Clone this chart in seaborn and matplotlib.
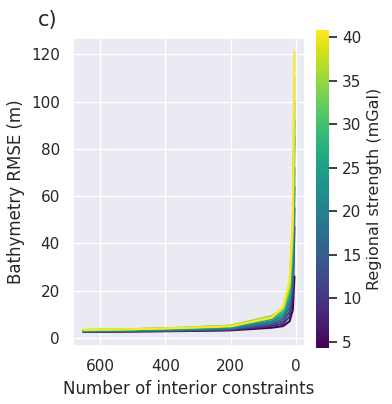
import pandas as pd
import numpy as np
import seaborn as sns
import matplotlib.pyplot as plt
import matplotlib as mpl

# number of interior constraints (x) shared by all runs
constraints = [650, 500, 350, 200, 75, 40, 20, 10, 5]

strengths = [4.3, 8.4, 12.4, 16.5, 20.5, 24.6, 28.6, 32.7, 36.7, 40.8]

rmse = [
    [2.5, 2.7, 2.9, 3.2, 4.3, 5.0, 7.0, 12, 26],
    [2.6, 2.8, 3.0, 3.4, 5.0, 6.0, 9.0, 18, 47],
    [2.7, 2.9, 3.2, 3.6, 5.6, 7.0, 11, 22, 55],
    [2.8, 3.0, 3.3, 3.9, 6.3, 8.0, 13, 26, 64],
    [2.9, 3.2, 3.5, 4.1, 7.0, 9.0, 15, 30, 72],
    [3.0, 3.3, 3.8, 4.5, 7.9, 10, 17, 35, 85],
    [3.2, 3.6, 4.1, 5.0, 8.8, 11, 19, 40, 92],
    [3.3, 3.7, 4.3, 5.2, 9.2, 12, 21, 44, 100],
    [3.4, 3.7, 4.3, 5.1, 9.0, 12.5, 22, 48, 110],
    [3.5, 3.7, 4.2, 4.9, 8.5, 13, 24, 52, 121],
]

rows = []
for s, vals in zip(strengths, rmse):
    for c, v in zip(constraints, vals):
        rows.append({'constraints': c, 'rmse': v, 'strength': s})
df = pd.DataFrame(rows)

sns.set_theme(style='darkgrid')
fig = plt.figure(figsize=(3.92, 4.04), dpi=100)
ax = fig.add_axes([73/392, 1-346/404, 232/392, 308/404])
cax = fig.add_axes([316/392, 1-348/404, 13/392, 318/404])

norm = mpl.colors.Normalize(vmin=4.3, vmax=40.8)
sns.lineplot(data=df, x='constraints', y='rmse', hue='strength', palette='viridis',
             hue_norm=norm, legend=False, ax=ax, linewidth=1.5)
ax.invert_xaxis()
ax.set_xlabel('Number of interior constraints')
ax.set_ylabel('Bathymetry RMSE (m)')
ax.set_yticks([0, 20, 40, 60, 80, 100, 120])
ax.set_xticks([600, 400, 200, 0])
ax.text(-0.15, 1.025, 'c)', transform=ax.transAxes, fontsize=15, ha='left', va='bottom')

sm = mpl.cm.ScalarMappable(cmap='viridis', norm=norm)
cb = fig.colorbar(sm, cax=cax)
cb.set_label('Regional strength (mGal)', fontsize=11.5)
cb.outline.set_visible(False)

plt.savefig('out.png', dpi=100)
